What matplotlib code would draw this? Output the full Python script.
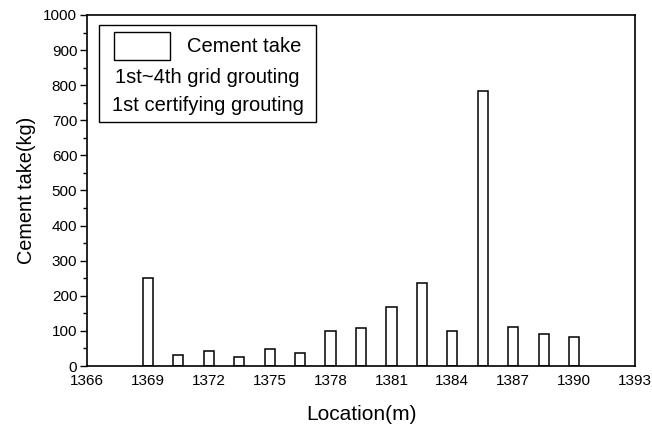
import numpy as np
import matplotlib.pyplot as plt
from matplotlib.offsetbox import (AnchoredOffsetbox, DrawingArea, HPacker,
                                  TextArea, VPacker)
from matplotlib.patches import Rectangle
from matplotlib.ticker import MultipleLocator

plt.rcParams["font.family"] = ["Liberation Sans", "DejaVu Sans"]

# grouting locations (m) and cement take (kg)
locations = [1369, 1370.5, 1372, 1373.5, 1375, 1376.5, 1378, 1379.5,
             1381, 1382.5, 1384, 1385.5, 1387, 1388.5, 1390]
cement_take = [250, 32, 44, 25, 49, 38, 100, 108,
               168, 236, 100, 783, 112, 92, 83]
x_ticks = [1366, 1369, 1372, 1375, 1378, 1381, 1384, 1387, 1390, 1393]
legend_lines = ["Cement take", "1st~4th grid grouting", "1st certifying grouting"]

fig = plt.figure(figsize=(6.52, 4.32), dpi=100)
ax = fig.add_axes([87 / 652, 1 - 366 / 432, 548 / 652, 351 / 432])

ax.bar(locations, cement_take, width=0.5, facecolor="white",
       edgecolor="black", linewidth=1.1)

ax.set_xlim(1366, 1393)
ax.set_ylim(0, 1000)
ax.set_xticks(x_ticks)
ax.yaxis.set_major_locator(MultipleLocator(100))
ax.yaxis.set_minor_locator(MultipleLocator(50))
ax.tick_params(axis="x", length=0, pad=6, labelsize=11)
ax.tick_params(axis="y", which="major", direction="out", length=5,
               width=1, labelsize=11, pad=2)
ax.tick_params(axis="y", which="minor", direction="out", length=3, width=1)
for sp in ax.spines.values():
    sp.set_linewidth(1.2)

ax.set_xlabel("Location(m)", fontsize=15, labelpad=12)
ax.set_ylabel("Cement take(kg)", fontsize=14.3, labelpad=5)

# legend box: patch + label on the first row, two centred text rows below
txt = dict(fontsize=14.5, color="black")
swatch = DrawingArea(41, 20, 0, 0)
swatch.add_artist(Rectangle((0, 0), 41, 20, facecolor="white",
                            edgecolor="black", linewidth=1.0))
row1 = HPacker(children=[swatch, TextArea(legend_lines[0], textprops=txt)],
               align="center", pad=0, sep=12)
rows = [row1] + [TextArea(s, textprops=txt) for s in legend_lines[1:]]
column = VPacker(children=rows, align="center", pad=0, sep=6)
# a little extra room left and right of the text column
box = HPacker(children=[DrawingArea(4, 1), column, DrawingArea(4, 1)],
              align="center", pad=0, sep=0)
anchored = AnchoredOffsetbox(loc="upper left", child=box, pad=0.5,
                             borderpad=0, frameon=True,
                             bbox_to_anchor=(0.022, 0.971),
                             bbox_transform=ax.transAxes)
anchored.patch.set_edgecolor("black")
anchored.patch.set_linewidth(1.0)
anchored.patch.set_boxstyle("square", pad=0)
ax.add_artist(anchored)

fig.savefig("out.png", dpi=100)
